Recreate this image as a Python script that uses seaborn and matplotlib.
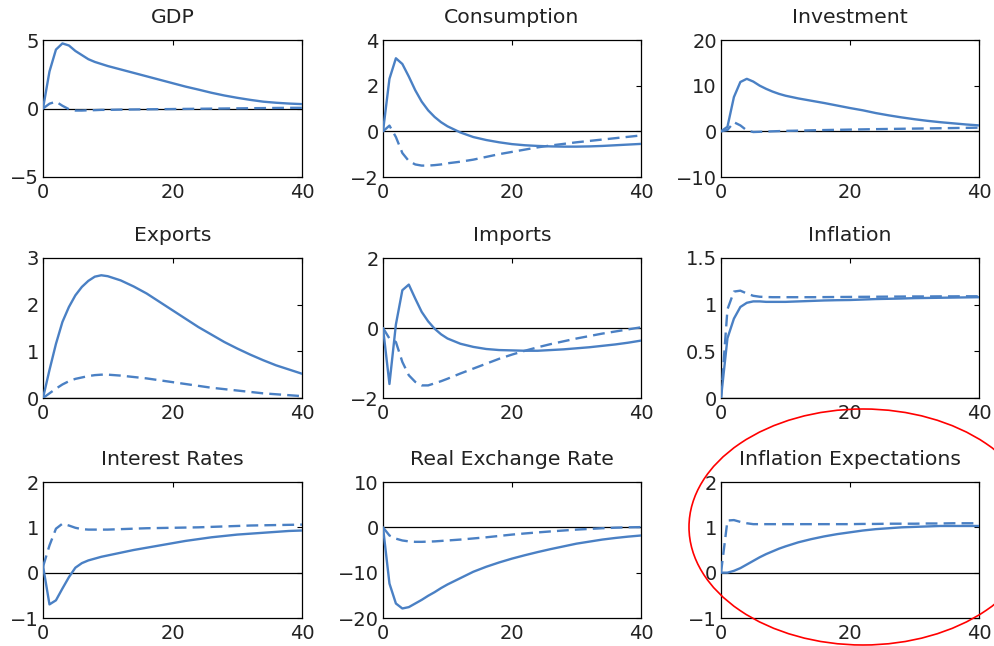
import numpy as np
import pandas as pd
import matplotlib
matplotlib.use("Agg")
import matplotlib.pyplot as plt
from matplotlib.patches import Ellipse
import seaborn as sns

# Quarters after the shock at which each response is recorded
quarters = [0, 1, 2, 3, 4, 5, 6, 7, 8, 9, 10, 12, 14, 16, 18, 20,
            22, 24, 26, 28, 30, 32, 34, 36, 38, 40]

titles = ["GDP", "Consumption", "Investment",
          "Exports", "Imports", "Inflation",
          "Interest Rates", "Real Exchange Rate", "Inflation Expectations"]

# Impulse responses: solid = baseline, dashed = alternative
gdp_solid = [0, 2.7, 4.3, 4.75, 4.6, 4.2, 3.9, 3.6, 3.4, 3.25, 3.1, 2.85, 2.6, 2.35, 2.1, 1.85,
             1.6, 1.38, 1.15, 0.95, 0.78, 0.63, 0.5, 0.42, 0.36, 0.32]
gdp_dashed = [0, 0.35, 0.5, 0.2, -0.05, -0.15, -0.15, -0.13, -0.12, -0.1, -0.1, -0.08, -0.07,
              -0.06, -0.05, -0.04, -0.03, -0.02, -0.01, 0.0, 0.01, 0.02, 0.03, 0.04, 0.05, 0.05]

cons_solid = [0, 2.3, 3.2, 2.95, 2.4, 1.8, 1.3, 0.92, 0.63, 0.4, 0.22, -0.05, -0.25, -0.38,
              -0.48, -0.56, -0.61, -0.64, -0.66, -0.67, -0.67, -0.66, -0.64, -0.61, -0.58, -0.55]
cons_dashed = [0, 0.25, -0.25, -0.95, -1.3, -1.45, -1.5, -1.5, -1.48, -1.45, -1.4, -1.33, -1.24,
               -1.12, -1.0, -0.9, -0.8, -0.7, -0.62, -0.55, -0.48, -0.42, -0.36, -0.3, -0.24, -0.18]

inv_solid = [0, 1.0, 7.5, 10.8, 11.5, 10.9, 10.0, 9.3, 8.7, 8.2, 7.8, 7.2, 6.7, 6.2, 5.65, 5.1,
             4.6, 4.0, 3.5, 3.05, 2.65, 2.3, 2.0, 1.75, 1.5, 1.3]
inv_dashed = [0, 0.3, 2.0, 1.3, 0.2, -0.15, -0.1, -0.05, 0.0, 0.05, 0.1, 0.15, 0.22, 0.28, 0.33,
              0.38, 0.43, 0.48, 0.52, 0.56, 0.6, 0.64, 0.68, 0.72, 0.76, 0.8]

exp_solid = [0, 0.6, 1.16, 1.63, 1.95, 2.2, 2.38, 2.51, 2.6, 2.63, 2.61, 2.52, 2.39, 2.24, 2.06,
             1.88, 1.7, 1.52, 1.36, 1.2, 1.06, 0.93, 0.81, 0.7, 0.61, 0.52]
exp_dashed = [0, 0.1, 0.2, 0.29, 0.36, 0.41, 0.44, 0.47, 0.49, 0.5, 0.5, 0.48, 0.45, 0.42, 0.38,
              0.34, 0.3, 0.26, 0.22, 0.19, 0.16, 0.13, 0.1, 0.08, 0.06, 0.04]

imp_solid = [0, -1.6, 0.1, 1.08, 1.24, 0.84, 0.46, 0.19, -0.02, -0.18, -0.3, -0.45, -0.54, -0.6,
             -0.63, -0.64, -0.65, -0.65, -0.63, -0.61, -0.58, -0.55, -0.51, -0.47, -0.42, -0.36]
imp_dashed = [0, -0.3, -0.4, -0.97, -1.35, -1.54, -1.64, -1.64, -1.58, -1.52, -1.45, -1.3, -1.16,
              -1.02, -0.88, -0.76, -0.65, -0.55, -0.46, -0.38, -0.3, -0.23, -0.16, -0.1, -0.04, 0.02]

infl_solid = [0, 0.64, 0.85, 0.975, 1.02, 1.035, 1.035, 1.03, 1.03, 1.03, 1.03, 1.035, 1.04,
              1.045, 1.048, 1.05, 1.055, 1.06, 1.063, 1.066, 1.07, 1.072, 1.074, 1.076, 1.078, 1.08]
infl_dashed = [0, 0.95, 1.14, 1.15, 1.12, 1.095, 1.085, 1.082, 1.08, 1.08, 1.08, 1.08, 1.08,
               1.081, 1.082, 1.083, 1.084, 1.085, 1.086, 1.087, 1.088, 1.088, 1.089, 1.089, 1.09, 1.09]

rate_solid = [0.15, -0.7, -0.61, -0.35, -0.1, 0.11, 0.21, 0.27, 0.31, 0.35, 0.38, 0.44, 0.5,
              0.55, 0.6, 0.65, 0.7, 0.74, 0.78, 0.81, 0.84, 0.86, 0.88, 0.9, 0.92, 0.93]
rate_dashed = [0.13, 0.6, 0.97, 1.08, 1.04, 0.99, 0.96, 0.95, 0.95, 0.95, 0.95, 0.96, 0.97, 0.98,
               0.985, 0.99, 0.995, 1.0, 1.01, 1.02, 1.03, 1.04, 1.045, 1.05, 1.055, 1.06]

rer_solid = [0, -12.4, -16.8, -17.9, -17.6, -16.8, -16.0, -15.1, -14.3, -13.4, -12.6, -11.2,
             -9.8, -8.7, -7.75, -6.9, -6.15, -5.45, -4.8, -4.2, -3.6, -3.15, -2.7, -2.35, -2.05, -1.8]
rer_dashed = [0, -1.8, -2.5, -2.9, -3.1, -3.2, -3.2, -3.15, -3.1, -3.0, -2.9, -2.7, -2.45, -2.2,
              -1.9, -1.6, -1.35, -1.12, -0.9, -0.7, -0.5, -0.35, -0.2, -0.08, 0.0, 0.05]

expct_solid = [0, 0.0, 0.04, 0.1, 0.18, 0.26, 0.34, 0.41, 0.47, 0.53, 0.58, 0.67, 0.74, 0.8,
               0.85, 0.89, 0.93, 0.96, 0.98, 1.0, 1.01, 1.02, 1.03, 1.03, 1.03, 1.03]
expct_dashed = [0, 1.15, 1.16, 1.12, 1.09, 1.07, 1.07, 1.07, 1.07, 1.07, 1.07, 1.07, 1.07, 1.07,
                1.07, 1.07, 1.075, 1.075, 1.08, 1.08, 1.08, 1.085, 1.085, 1.09, 1.09, 1.09]

solid_series = [gdp_solid, cons_solid, inv_solid, exp_solid, imp_solid, infl_solid,
                rate_solid, rer_solid, expct_solid]
dashed_series = [gdp_dashed, cons_dashed, inv_dashed, exp_dashed, imp_dashed, infl_dashed,
                 rate_dashed, rer_dashed, expct_dashed]

y_limits = [(-5, 5), (-2, 4), (-10, 20), (0, 3), (-2, 2), (0, 1.5), (-1, 2), (-20, 10), (-1, 2)]
y_ticks = [[-5, 0, 5], [-2, 0, 2, 4], [-10, 0, 10, 20], [0, 1, 2, 3], [-2, 0, 2],
           [0, 0.5, 1, 1.5], [-1, 0, 1, 2], [-20, -10, 0, 10], [-1, 0, 1, 2]]
y_ticklabels = [["\u22125", "0", "5"], ["\u22122", "0", "2", "4"], ["\u221210", "0", "10", "20"],
                ["0", "1", "2", "3"], ["\u22122", "0", "2"], ["0", "0.5", "1", "1.5"],
                ["\u22121", "0", "1", "2"], ["\u221220", "\u221210", "0", "10"],
                ["\u22121", "0", "1", "2"]]
x_ticks = [0, 20, 40]

# Long-format table for seaborn
rows = []
for name, s, d in zip(titles, solid_series, dashed_series):
    for q, v in zip(quarters, s):
        rows.append((name, q, v, "baseline"))
    for q, v in zip(quarters, d):
        rows.append((name, q, v, "alternative"))
df = pd.DataFrame(rows, columns=["variable", "quarter", "value", "scenario"])

sns.set_theme(style="white")
plt.rcParams.update({
    "font.family": ["DejaVu Sans"],
    "xtick.direction": "in",
    "ytick.direction": "in",
    "xtick.top": True,
    "ytick.right": True,
    "axes.edgecolor": "black",
    "axes.linewidth": 0.9,
    "text.color": "#222222",
    "xtick.color": "black",
    "ytick.color": "black",
    "xtick.labelcolor": "#222222",
    "ytick.labelcolor": "#222222",
})

W, H = 994, 646
fig = plt.figure(figsize=(W / 100, H / 100), dpi=100)
fig.patch.set_facecolor("white")

col_left = [43, 383, 721]
col_right = [302, 641, 979]
row_top = [40, 258, 482]
row_bottom = [177, 398, 618]

BLUE = "#4a80c4"

for i, name in enumerate(titles):
    r, c = divmod(i, 3)
    l, rgt = col_left[c], col_right[c]
    t, b = row_top[r], row_bottom[r]
    ax = fig.add_axes([l / W, 1 - b / H, (rgt - l) / W, (b - t) / H])
    sub = df[df["variable"] == name]
    ax.axhline(0, color="black", lw=0.9, zorder=1)
    sns.lineplot(data=sub, x="quarter", y="value", style="scenario",
                 style_order=["baseline", "alternative"],
                 dashes={"baseline": "", "alternative": (5, 2.6)},
                 color=BLUE, lw=1.7, legend=False, ax=ax, zorder=3)
    ax.set_xlim(0, 40)
    ax.set_ylim(*y_limits[i])
    ax.set_xticks(x_ticks)
    ax.set_xticklabels([str(v) for v in x_ticks])
    ax.set_yticks(y_ticks[i])
    ax.set_yticklabels(y_ticklabels[i])
    ax.tick_params(axis="both", which="major", length=3.5, width=0.8, labelsize=14)
    ax.tick_params(axis="x", pad=4)
    ax.tick_params(axis="y", pad=3)
    ax.set_xlabel("")
    ax.set_ylabel("")
    ax.set_title(name, fontsize=14.7, pad=12.5, color="#222222")
    for sp in ax.spines.values():
        sp.set_visible(True)
        sp.set_color("black")
        sp.set_linewidth(0.9)

# Highlight around the inflation-expectations panel
ring = Ellipse((863 / W, 1 - 527 / H), 348 / W, 236 / H, transform=fig.transFigure,
               fill=False, edgecolor="red", lw=1.2, clip_on=False, zorder=10)
fig.patches.append(ring)

fig.savefig("out.png", dpi=100, facecolor="white")
